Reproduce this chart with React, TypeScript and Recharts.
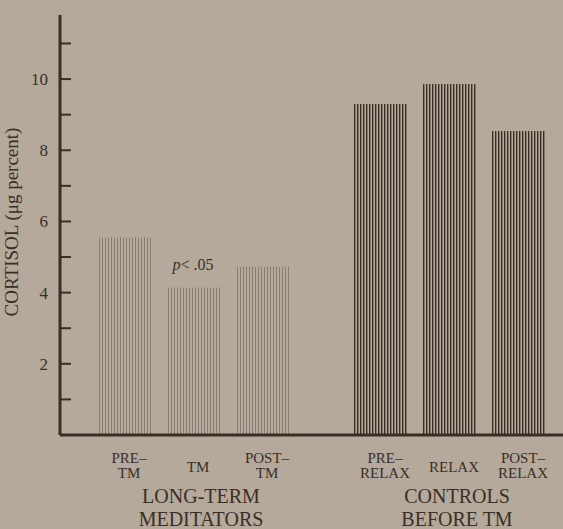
import React from "react";
import { BarChart, Bar, XAxis, YAxis, LabelList, Label } from "recharts";

// values (cortisol, µg percent)
const groups = ["LONG-TERM\nMEDITATORS", "CONTROLS\nBEFORE TM"];
const preLabels = ["PRE–\nTM", "PRE–\nRELAX"];
const duringLabels = ["TM", "RELAX"];
const postLabels = ["POST–\nTM", "POST–\nRELAX"];
const preValues = [5.55, 9.3];
const duringValues = [4.14, 9.86];
const postValues = [4.73, 8.54];
const notes = ["p< .05", ""];
const yTicks = [1, 2, 3, 4, 5, 6, 7, 8, 9, 10, 11];

const ink = "#3a2f27";
const paper = "#b4a99b";
const font = "'Liberation Serif', 'DejaVu Serif', serif";

const data = groups.map((g, i) => ({
    group: g,
    pre: preValues[i],
    during: duringValues[i],
    post: postValues[i],
    preLabel: preLabels[i],
    duringLabel: duringLabels[i],
    postLabel: postLabels[i],
    note: notes[i],
}));

const YTick = (props: any) => {
    const { x, y, payload } = props;
    const v = payload.value;
    return (
        <g>
            <line x1={x} x2={x + 11} y1={y} y2={y} stroke={ink} strokeWidth={2} />
            {v % 2 === 0 && (
                <text x={x - 12} y={y} dy={6} textAnchor="end" fontSize={17} fill={ink} fontFamily={font}>
                    {v}
                </text>
            )}
        </g>
    );
};

const GroupTick = (props: any) => {
    const { x, y, payload } = props;
    const lines = String(payload.value).split("\n");
    return (
        <g>
            {lines.map((l, i) => (
                <text key={i} x={x + 8} y={y + 68 + i * 23} textAnchor="middle"
                    fontSize={20} fill={ink} fontFamily={font}>{l}</text>
            ))}
        </g>
    );
};

// label under each bar, one or two lines
const SubLabel = (props: any) => {
    const { x, y, width, height, value } = props;
    const lines = String(value).split("\n");
    const cx = x + width / 2 + 5;
    const base = y + height;
    return (
        <text textAnchor="middle" fontSize={15} fill={ink} fontFamily={font}>
            {lines.length === 1 ? (
                <tspan x={cx} y={base + 37}>{lines[0]}</tspan>
            ) : (
                lines.map((l, i) => (
                    <tspan key={i} x={cx} y={base + 28 + i * 15}>{l}</tspan>
                ))
            )}
        </text>
    );
};

const NoteLabel = (props: any) => {
    const { x, y, width, value } = props;
    if (!value) return null;
    return (
        <text x={x + width / 2} y={y - 18} textAnchor="middle" fontSize={16} fill={ink} fontFamily={font}>
            <tspan fontStyle="italic">p</tspan>
            {String(value).slice(1)}
        </text>
    );
};

const YTitle = () => (
    <text
        transform="translate(18,222) rotate(-90)"
        textAnchor="middle"
        fontSize={19}
        fill={ink}
        fontFamily={font}
    >
        CORTISOL (μg percent)
    </text>
);

export default function App() {
    return (
        <div
            style={{
                position: "absolute",
                left: 0,
                top: 0,
                width: 563,
                height: 529,
                overflow: "hidden",
                background: paper,
            }}
        >
            <svg width={0} height={0} style={{ position: "absolute" }}>
                <defs>
                    <pattern id="lightStripes" patternUnits="userSpaceOnUse" width={3} height={10}>
                        <rect width={3} height={10} fill="#b5ab9c" />
                        <rect width={1} height={10} fill="#877d72" />
                    </pattern>
                    <pattern id="darkStripes" patternUnits="userSpaceOnUse" width={3} height={10}>
                        <rect width={3} height={10} fill="#b5aa9a" />
                        <rect width={1.4} height={10} fill="#3a2f26" />
                    </pattern>
                </defs>
            </svg>
            <BarChart
                width={580}
                height={529}
                data={data}
                margin={{ top: 15, right: 3, left: 0, bottom: 0 }}
                barSize={54}
                barGap={15}
            >
                <XAxis
                    dataKey="group"
                    height={94}
                    padding={{ left: 5, right: 0 }}
                    axisLine={{ stroke: ink, strokeWidth: 3 }}
                    tickLine={false}
                    tickSize={0}
                    tickMargin={0}
                    tick={<GroupTick />}
                    interval={0}
                />
                <YAxis
                    width={60}
                    domain={[0, 11.8]}
                    ticks={yTicks}
                    axisLine={{ stroke: ink, strokeWidth: 3 }}
                    tickLine={false}
                    tickSize={0}
                    tickMargin={0}
                    tick={<YTick />}
                    allowDataOverflow
                >
                    <Label content={<YTitle />} />
                </YAxis>
                <Bar dataKey="pre" isAnimationActive={false}
                    shape={(p: any) => (
                        <rect x={p.x} y={p.y} width={p.width} height={p.height}
                            fill={p.index === 0 ? "url(#lightStripes)" : "url(#darkStripes)"} />
                    )}>
                    <LabelList dataKey="preLabel" content={<SubLabel />} />
                </Bar>
                <Bar dataKey="during" isAnimationActive={false}
                    shape={(p: any) => (
                        <rect x={p.x} y={p.y} width={p.width} height={p.height}
                            fill={p.index === 0 ? "url(#lightStripes)" : "url(#darkStripes)"} />
                    )}>
                    <LabelList dataKey="duringLabel" content={<SubLabel />} />
                    <LabelList dataKey="note" content={<NoteLabel />} />
                </Bar>
                <Bar dataKey="post" isAnimationActive={false}
                    shape={(p: any) => (
                        <rect x={p.x} y={p.y} width={p.width} height={p.height}
                            fill={p.index === 0 ? "url(#lightStripes)" : "url(#darkStripes)"} />
                    )}>
                    <LabelList dataKey="postLabel" content={<SubLabel />} />
                </Bar>
            </BarChart>
        </div>
    );
}
